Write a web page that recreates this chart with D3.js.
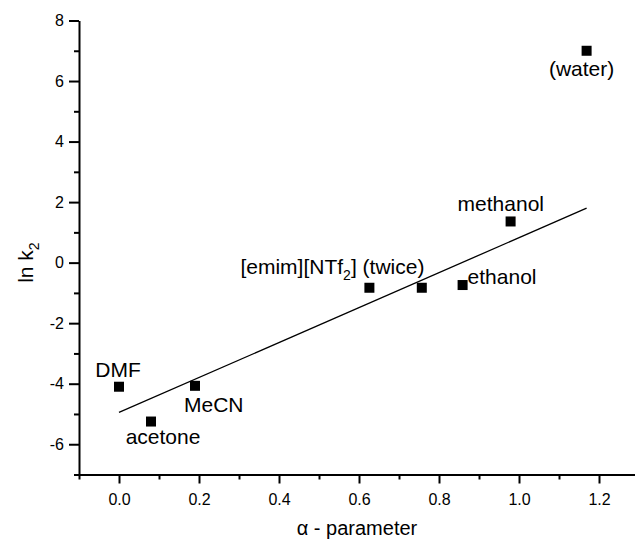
<!DOCTYPE html>
<html>
<head>
<meta charset="utf-8">
<script src="https://cdn.jsdelivr.net/npm/d3@7"></script>
<style>
	body { margin: 0; background: #fff; }
	svg { display: block; font-family: "Liberation Sans", Arial, sans-serif; }
	.axis path, .axis line { stroke: #000; stroke-width: 2; }
	.axis text { font-size: 16px; fill: #000; }
	.lbl { font-size: 21px; fill: #000; }
	.title { font-size: 20px; fill: #000; }
</style>
</head>
<body>
<div class="container"></div>
<script>
var	WIDTH = 635,
	HEIGHT = 542,
	LEFT = 79,
	RIGHT = 639,
	TOP = 20.5,
	BOTTOM = 474.5;

// solvents
var solvents = ['DMF', 'acetone', 'MeCN', '[emim][NTf2]', '[emim][NTf2]', 'ethanol', 'methanol', '(water)'];
var alphaValues = [0.0, 0.08, 0.19, 0.626, 0.757, 0.859, 0.979, 1.169];
var lnK2 = [-4.1, -5.25, -4.07, -0.83, -0.83, -0.74, 1.36, 7.0];

// linear fit drawn on the chart
var fitX = [0.0, 1.169];
var fitY = [-4.95, 1.8];

var xTicks = [0.0, 0.2, 0.4, 0.6, 0.8, 1.0, 1.2];
var yTicks = [-6, -4, -2, 0, 2, 4, 6, 8];

// label offsets from each point (dx, dy, anchor)
var labelPos = [
	[-1, -10, 'middle'],
	[12, 22, 'middle'],
	[-11, 26, 'start'],
	[0, 0, 'none'],
	[0, 0, 'none'],
	[5, -1, 'start'],
	[-53, -10, 'start'],
	[-5, 25, 'middle']
];

function translate(x, y) {
	return 'translate(' + x + ',' + y + ')';
}

var svg = d3.select('.container').append('svg')
	.attr('width', WIDTH)
	.attr('height', HEIGHT);

var xScale = d3.scaleLinear()
	.domain([-0.1, 1.3])
	.range([LEFT, RIGHT]);

var yScale = d3.scaleLinear()
	.domain([-7, 8])
	.range([BOTTOM, TOP]);

// minor ticks first
svg.append('g')
	.attr('class', 'axis')
	.attr('transform', translate(0, BOTTOM))
	.call(d3.axisBottom(xScale).tickValues(d3.range(-0.1, 1.31, 0.2)).tickSize(5).tickFormat(''))
	.select('.domain').remove();

svg.append('g')
	.attr('class', 'axis')
	.attr('transform', translate(LEFT, 0))
	.call(d3.axisLeft(yScale).tickValues(d3.range(-7, 8, 2)).tickSize(5).tickFormat(''))
	.select('.domain').remove();

var xAxis = svg.append('g')
	.attr('class', 'axis')
	.attr('transform', translate(0, BOTTOM))
	.call(d3.axisBottom(xScale).tickValues(xTicks).tickSize(9).tickSizeOuter(0).tickPadding(10).tickFormat(d3.format('.1f')));

var yAxis = svg.append('g')
	.attr('class', 'axis')
	.attr('transform', translate(LEFT, 0))
	.call(d3.axisLeft(yScale).tickValues(yTicks).tickSize(10).tickSizeOuter(0).tickPadding(5).tickFormat(d3.format('d')));

yAxis.selectAll('text').text(function(d) { return d < 0 ? '-' + Math.abs(d) : d; });

// fit line
var line = d3.line()
	.x(function(d, i) { return xScale(fitX[i]); })
	.y(function(d) { return yScale(d); });

svg.append('path')
	.datum(fitY)
	.attr('d', line)
	.attr('fill', 'none')
	.attr('stroke', '#000')
	.attr('stroke-width', 1.3);

// points
svg.selectAll('.pt')
	.data(alphaValues).enter()
	.append('rect')
	.attr('class', 'pt')
	.attr('x', function(d) { return xScale(d) - 5; })
	.attr('y', function(d, i) { return yScale(lnK2[i]) - 5; })
	.attr('width', 10)
	.attr('height', 10)
	.attr('fill', '#000');

// labels
solvents.forEach(function(s, i) {
	var p = labelPos[i];
	if (p[2] === 'none') return;
	svg.append('text')
		.attr('class', 'lbl')
		.attr('x', xScale(alphaValues[i]) + p[0])
		.attr('y', yScale(lnK2[i]) + p[1])
		.attr('text-anchor', p[2])
		.text(s);
});

// ionic liquid label with subscript
var il = svg.append('text')
	.attr('class', 'lbl')
	.attr('x', xScale(alphaValues[3]) + 55)
	.attr('y', yScale(lnK2[3]) - 14)
	.attr('text-anchor', 'end');
il.append('tspan').text('[emim][NTf');
il.append('tspan').attr('font-size', '14px').attr('dy', 6).text('2');
il.append('tspan').attr('dy', -6).text('] (twice)');

// axis titles
var yt = svg.append('text')
	.attr('class', 'lbl')
	.attr('transform', translate(33, yScale(0)) + ' rotate(-90)')
	.attr('text-anchor', 'middle');
yt.append('tspan').text('ln k');
yt.append('tspan').attr('font-size', '14px').attr('dy', 6).text('2');

svg.append('text')
	.attr('class', 'title')
	.attr('x', 357)
	.attr('y', 535)
	.attr('text-anchor', 'middle')
	.text('\u03b1 - parameter');
</script>
</body>
</html>
